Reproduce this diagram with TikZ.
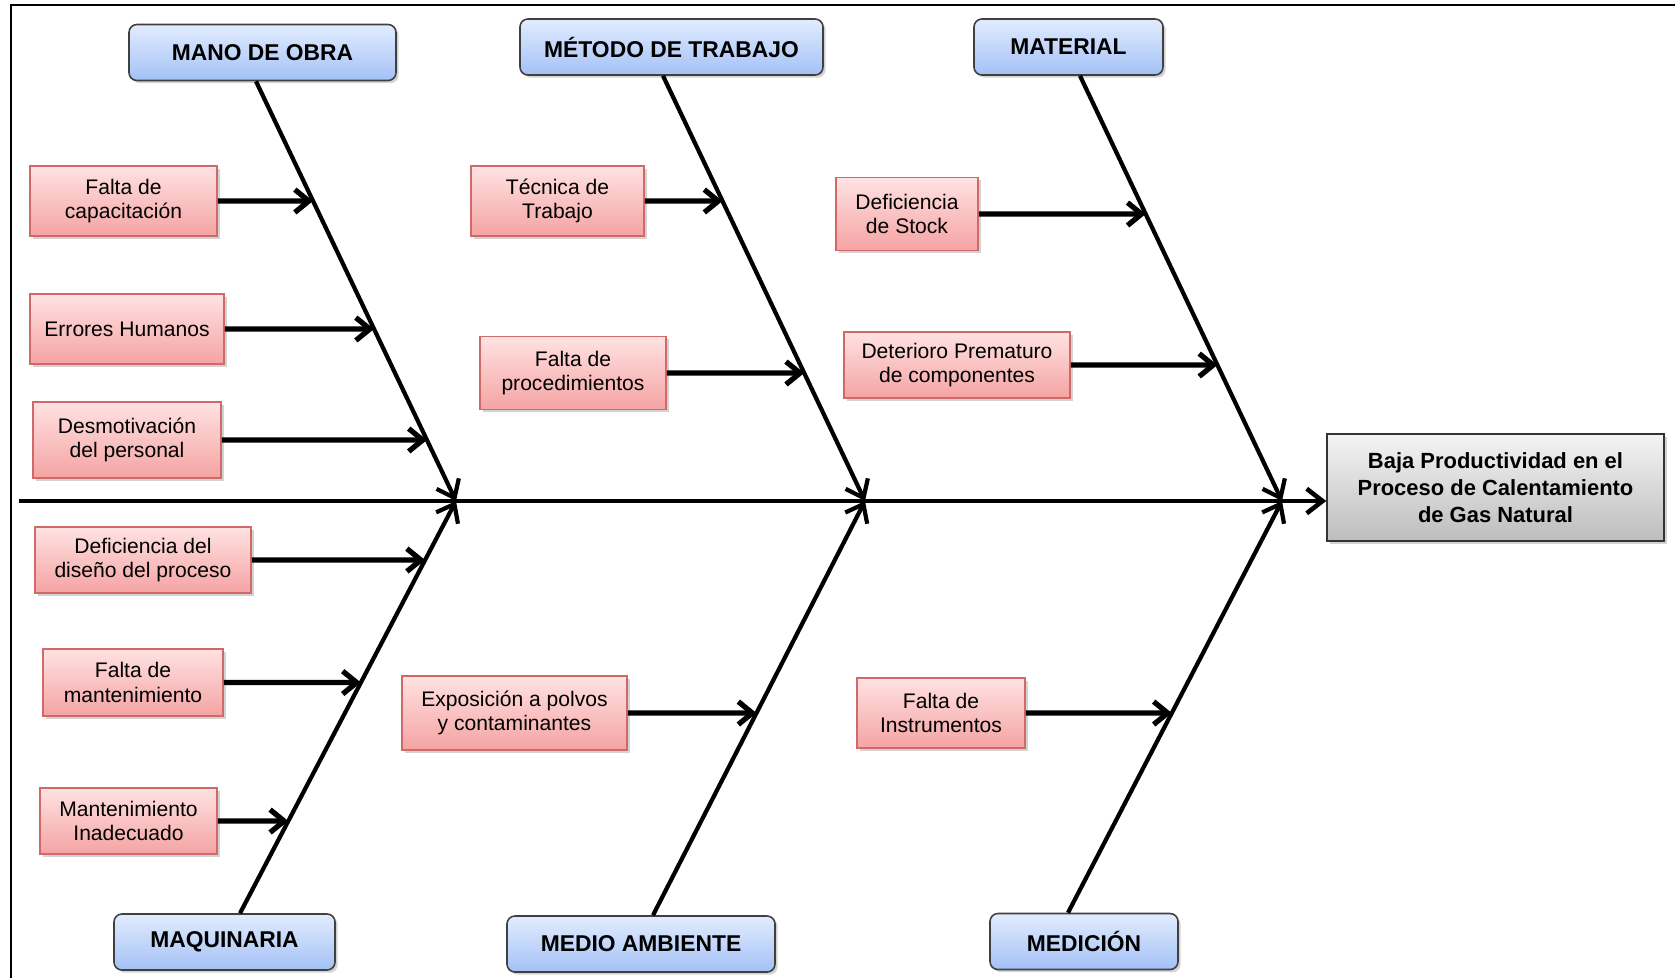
\documentclass[tikz,border=0pt]{standalone}
\usepackage{fontspec}
\setmainfont{Liberation Sans}
\usetikzlibrary{arrows.meta,calc,shadows}

\newcommand{\pxu}{0.02cm}

\definecolor{azulclaro}{HTML}{E2ECFE}
\definecolor{azul}{HTML}{A3C1F6}
\definecolor{rosaclaro}{HTML}{FFE2E2}
\definecolor{rosa}{HTML}{F5A3A3}
\definecolor{bordecausa}{HTML}{D06A68}
\definecolor{grisclaro}{HTML}{F4F4F4}
\definecolor{gris}{HTML}{BDBDBD}

\tikzset{
	sombra/.style={drop shadow={opacity=0.35, shadow xshift=1.5pt, shadow yshift=-1.5pt}},
	categoria/.style={draw=black!75, line width=0.9pt, rounded corners=4.5pt, top color=azulclaro, bottom color=azul, sombra, inner sep=0pt, minimum height=56*\pxu, font=\bfseries\fontsize{13}{15}\selectfont},
	causa/.style={draw=bordecausa, line width=0.9pt, top color=rosaclaro, bottom color=rosa, sombra, inner sep=0pt, align=center, minimum height=70*\pxu, font=\fontsize{12}{14}\selectfont},
	efecto/.style={draw=black!80, line width=0.9pt, top color=grisclaro, bottom color=gris, sombra, inner sep=0pt, align=center, font=\bfseries\fontsize{12.5}{15.5}\selectfont},
	flecha/.style={line width=3pt, -{Straight Barb[length=8pt,width=13pt]}},
	hueso/.style={line width=2.4pt, -{Straight Barb[length=9pt,width=14pt]}},
	espina/.style={line width=2.6pt, -{Straight Barb[length=9pt,width=14pt]}}
}

\begin{document}
\begin{tikzpicture}[x=0.02cm, y=-0.02cm]
		\useasboundingbox (0, 0) rectangle (1675, 978);
		\draw[line width=1.7pt] (11, 978) -- (11, 5) -- (1675, 5);
		
		\node[categoria, minimum width=267*\pxu] (mano) at (262.5, 52.5) {MANO DE OBRA};
		\node[categoria, minimum width=303*\pxu] (metodo) at (671.5, 47) {MÉTODO DE TRABAJO};
		\node[categoria, minimum width=189*\pxu] (material) at (1068.5, 47) {MATERIAL};
		\node[categoria, minimum width=221*\pxu] (maquinaria) at (224.5, 942) {MAQUINARIA};
		\node[categoria, minimum width=268*\pxu] (medio) at (641, 944) {MEDIO AMBIENTE};
		\node[categoria, minimum width=188*\pxu] (medicion) at (1084, 941.5) {MEDICIÓN};
		
		\node[efecto, minimum width=337*\pxu, minimum height=107*\pxu] (baja) at (1495.5, 487.5) {Baja Productividad en el\\Proceso de Calentamiento\\de Gas Natural};
		
		\coordinate (cola) at (19, 501);
		\coordinate (j1) at (456, 501);
		\coordinate (j2) at (865, 501);
		\coordinate (j3) at (1282, 501);
		
		\coordinate (b1) at ($(mano.south) + (-6.5, 0)$);
		\coordinate (b2) at ($(metodo.south) + (-8.5, 0)$);
		\coordinate (b3) at ($(material.south) + (11.5, 0)$);
		\coordinate (b4) at ($(maquinaria.north) + (15.5, 0)$);
		\coordinate (b5) at ($(medio.north) + (12, 0)$);
		\coordinate (b6) at ($(medicion.north) + (-16, 0)$);
		
		\draw[espina] (cola) -- (cola -| baja.west);
		\draw[hueso] (b1) -- (j1);
		\draw[hueso] (b2) -- (j2);
		\draw[hueso] (b3) -- (j3);
		\draw[hueso] (b4) -- (j1);
		\draw[hueso] (b5) -- (j2);
		\draw[hueso] (b6) -- (j3);
		
		\node[causa, minimum width=187*\pxu] (capacitacion) at (123.5, 201) {Falta de\\capacitación};
		\node[causa, minimum width=194*\pxu] (errores) at (127, 329) {Errores Humanos};
		\node[causa, minimum width=188*\pxu, minimum height=76*\pxu] (desmotivacion) at (127, 440) {Desmotivación\\del personal};
		\node[causa, minimum width=216*\pxu, minimum height=66*\pxu] (diseno) at (143, 560) {Deficiencia del\\diseño del proceso};
		\node[causa, minimum width=180*\pxu, minimum height=67*\pxu] (mantenimiento) at (133, 682.5) {Falta de\\mantenimiento};
		\node[causa, minimum width=177*\pxu, minimum height=66*\pxu] (inadecuado) at (128.5, 821) {Mantenimiento\\Inadecuado};
		
		\node[causa, minimum width=173*\pxu] (tecnica) at (557.5, 201) {Técnica de\\Trabajo};
		\node[causa, minimum width=186*\pxu, minimum height=73*\pxu] (procedimientos) at (573, 373) {Falta de\\procedimientos};
		\node[causa, minimum width=225*\pxu, minimum height=74*\pxu] (exposicion) at (514.5, 713) {Exposición a polvos\\y contaminantes};
		
		\node[causa, minimum width=142*\pxu, minimum height=73*\pxu] (stock) at (907, 214) {Deficiencia\\de Stock};
		\node[causa, minimum width=226*\pxu, minimum height=66*\pxu] (deterioro) at (957, 365) {Deterioro Prematuro\\de componentes};
		\node[causa, minimum width=168*\pxu] (instrumentos) at (941, 713) {Falta de\\Instrumentos};
		
		\draw[flecha] (capacitacion.east) -- (intersection of b1--j1 and capacitacion.east--capacitacion.west);
		\draw[flecha] (errores.east) -- (intersection of b1--j1 and errores.east--errores.west);
		\draw[flecha] (desmotivacion.east) -- (intersection of b1--j1 and desmotivacion.east--desmotivacion.west);
		\draw[flecha] (diseno.east) -- (intersection of b4--j1 and diseno.east--diseno.west);
		\draw[flecha] (mantenimiento.east) -- (intersection of b4--j1 and mantenimiento.east--mantenimiento.west);
		\draw[flecha] (inadecuado.east) -- (intersection of b4--j1 and inadecuado.east--inadecuado.west);
		
		\draw[flecha] (tecnica.east) -- (intersection of b2--j2 and tecnica.east--tecnica.west);
		\draw[flecha] (procedimientos.east) -- (intersection of b2--j2 and procedimientos.east--procedimientos.west);
		\draw[flecha] (exposicion.east) -- (intersection of b5--j2 and exposicion.east--exposicion.west);
		
		\draw[flecha] (stock.east) -- (intersection of b3--j3 and stock.east--stock.west);
		\draw[flecha] (deterioro.east) -- (intersection of b3--j3 and deterioro.east--deterioro.west);
		\draw[flecha] (instrumentos.east) -- (intersection of b6--j3 and instrumentos.east--instrumentos.west);
	\end{tikzpicture}
\end{document}
